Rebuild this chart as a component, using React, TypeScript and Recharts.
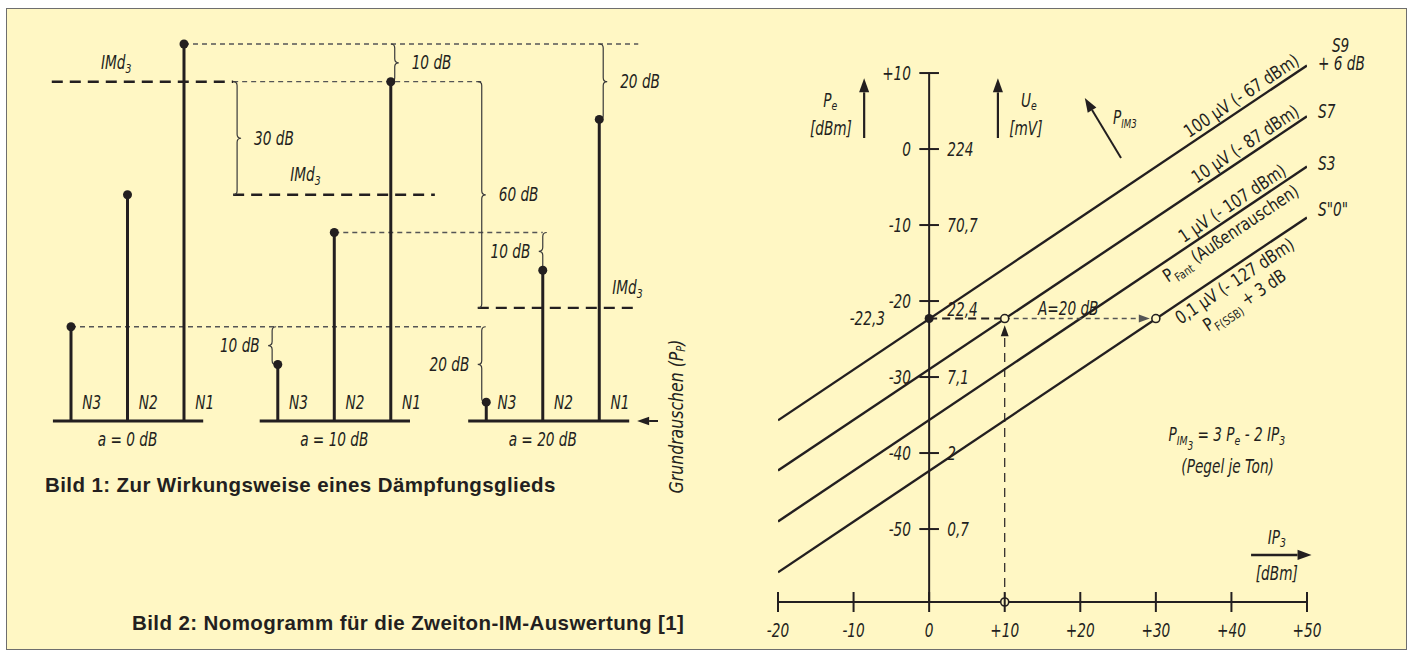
import React from 'react'
import {
  ScatterChart, Scatter,
  LineChart, Line,
  XAxis, YAxis,
  ReferenceLine, ReferenceDot,
} from 'recharts'

const W = 1412
const H = 656
const INK = '#231f20'
const GUIDE = '#555555'
const PAPER = '#fff7c4'
const NARROW = '"Liberation Sans Narrow", "DejaVu Sans Condensed", "Roboto Condensed", "Liberation Sans", sans-serif'

// ── Bild 1: three spectra (a = 0 / 10 / 20 dB) ────────────────────────────────
const ATTENUATION = [0, 10, 20]
const TONES = ['N3', 'N2', 'N1']
const GROUP_POS = [0, 3.66, 7.35]        // start of each spectrum, in tone spacings
const N1_DB = [100, 90, 80]
const N2_DB = [60, 50, 40]
const N3_DB = [25, 15, 5]
const IMD_DB = [90, 60, 30]
const IMD_FROM = [-0.34, 2.87, 7.2]
const IMD_TO = [2.87, 6.44, 10.04]
const BASE_FROM = [-0.32, -0.32, -0.32]
const BASE_TO = [2.34, 2.34, 2.53]
const GUIDE_DB = [100, 90, 50, 25]
const GUIDE_FROM = [2, 2.87, 4.66, 0]
const GUIDE_TO = [10.04, 7.27, 8.35, 7.27]
const BRACE_X = [5.73, 2.94, 9.42, 7.27, 8.35, 3.56, 7.27]
const BRACE_TOP = [100, 90, 100, 90, 50, 25, 25]
const BRACE_BOTTOM = [90, 60, 80, 30, 40, 15, 5]
const BRACE_SIDE = [1, 1, 1, 1, -1, -1, -1]
const BRACE_TEXT = ['10 dB', '30 dB', '20 dB', '60 dB', '10 dB', '10 dB', '20 dB']

// ── Bild 2: nomogram ──────────────────────────────────────────────────────────
const IP3_ENDS = [-20, 50]
const S9_PE = [-35.7, 11.0]
const S7_PE = [-42.3, 4.3]
const S3_PE = [-49.0, -2.3]
const S0_PE = [-55.7, -9.0]
const PE_TICKS = [10, 0, -10, -20, -30, -40, -50]
const UE_MV = ['', '224', '70,7', '22,4', '7,1', '2', '0,7']
const IP3_TICKS = [-20, -10, 0, 10, 20, 30, 40, 50]
const PE_READ = -22.3
const IP3_READ = 10
const IP3_SSB = 30

const LINE_ROWS = IP3_ENDS.map((ip3, i) => ({
  ip3, s9: S9_PE[i], s7: S7_PE[i], s3: S3_PE[i], s0: S0_PE[i],
}))

const signed = (v: number) => (v > 0 ? `+${v}` : String(v))

type TextOpts = {
  anchor?: 'start' | 'middle' | 'end'
  rotate?: number
  dy?: number
  italic?: boolean
  size?: number
  central?: boolean
  sx?: number
}

// text placed in data coordinates (squeezed a little, the print uses a condensed face)
function note(key: string, x: number, y: number, content: React.ReactNode, o: TextOpts = {}) {
  const { anchor = 'middle', rotate = 0, dy = 0, italic = true, size = 19, central = true, sx = 0.8 } = o
  return (
    <ReferenceDot
      key={key} x={x} y={y} r={0} ifOverflow="visible"
      shape={(p: any) => (
        <text
          x={p.cx} y={p.cy + dy}
          textAnchor={anchor}
          dominantBaseline={central ? 'central' : 'alphabetic'}
          transform={`translate(${p.cx} ${p.cy}) rotate(${rotate}) scale(${sx} 1) translate(${-p.cx} ${-p.cy})`}
          fontFamily={NARROW} fontSize={size}
          fontStyle={italic ? 'italic' : 'normal'}
          fill={INK}
        >
          {content}
        </text>
      )}
    />
  )
}

const arrowShape = (size: number, color: string, width: number, dash?: string) => (p: any) => {
  const { x1, y1, x2, y2 } = p
  const a = Math.atan2(y2 - y1, x2 - x1)
  const bx = x2 - Math.cos(a) * size
  const by = y2 - Math.sin(a) * size
  const w = size * 0.36
  const px = -Math.sin(a) * w
  const py = Math.cos(a) * w
  return (
    <g>
      <line x1={x1} y1={y1} x2={bx} y2={by} stroke={color} strokeWidth={width} strokeDasharray={dash} />
      <polygon points={`${x2},${y2} ${bx + px},${by + py} ${bx - px},${by - py}`} fill={color} />
    </g>
  )
}

const braceShape = (side: number) => (p: any) => {
  const x = p.x1
  const ya = Math.min(p.y1, p.y2)
  const yb = Math.max(p.y1, p.y2)
  const ym = (ya + yb) / 2
  const h = 4
  const d = `M${x - side * h},${ya} Q${x},${ya} ${x},${ya + h} L${x},${ym - h} Q${x},${ym} ${x + side * h},${ym} ` +
    `Q${x},${ym} ${x},${ym + h} L${x},${yb - h} Q${x},${yb} ${x - side * h},${yb}`
  return <path d={d} fill="none" stroke="#3a3a3a" strokeWidth={1.2} />
}

function seg(key: string, x1: number, y1: number, x2: number, y2: number, props: any) {
  return (
    <ReferenceLine
      key={key}
      segment={[{ x: x1, y: y1 }, { x: x2, y: y2 }]}
      ifOverflow="visible"
      {...props}
    />
  )
}

const sub3 = (base: string) => [
  <tspan key="a">{base}</tspan>,
  <tspan key="b" dy={6} fontSize={13}>3</tspan>,
]

function Bild1() {
  const levels = [N3_DB, N2_DB, N1_DB]
  const stems: { x: number; level: number; name: string; g: number }[] = []
  GROUP_POS.forEach((g0, g) =>
    TONES.forEach((name, t) => stems.push({ x: g0 + t, level: levels[t][g], name, g })),
  )

  return (
    <ScatterChart width={W} height={H} margin={{ top: 0, right: 0, bottom: 0, left: 0 }}>
      <XAxis type="number" dataKey="x" domain={[-1.2566, 23.735]} hide allowDataOverflow />
      <YAxis type="number" dataKey="level" domain={[-62.33, 111.67]} hide width={0} allowDataOverflow />

      {/* guide lines */}
      {GUIDE_DB.map((db, i) =>
        seg(`gd${i}`, GUIDE_FROM[i], db, GUIDE_TO[i], db,
          { stroke: GUIDE, strokeWidth: 1.3, strokeDasharray: '5 4' }))}

      {/* IMd3 levels */}
      {IMD_DB.map((db, i) =>
        seg(`imd${i}`, IMD_FROM[i], db, IMD_TO[i], db,
          { stroke: INK, strokeWidth: 2.4, strokeDasharray: '11 7' }))}

      {/* braces */}
      {BRACE_X.map((x, i) =>
        seg(`br${i}`, x, BRACE_TOP[i], x, BRACE_BOTTOM[i], { shape: braceShape(BRACE_SIDE[i]) }))}
      {BRACE_X.map((x, i) =>
        note(`brt${i}`, x + BRACE_SIDE[i] * (BRACE_SIDE[i] > 0 ? 0.3 : 0.22),
          (BRACE_TOP[i] + BRACE_BOTTOM[i]) / 2, BRACE_TEXT[i],
          { anchor: BRACE_SIDE[i] > 0 ? 'start' : 'end' }))}

      {/* baselines and stems */}
      {GROUP_POS.map((g0, g) =>
        seg(`base${g}`, g0 + BASE_FROM[g], 0, g0 + BASE_TO[g], 0, { stroke: INK, strokeWidth: 3 }))}
      {stems.map((s, i) => seg(`st${i}`, s.x, 0, s.x, s.level, { stroke: INK, strokeWidth: 3 }))}
      <Scatter
        data={stems}
        isAnimationActive={false}
        shape={(p: any) => <circle cx={p.cx} cy={p.cy} r={4.5} fill={INK} />}
      />

      {stems.map((s, i) => note(`nl${i}`, s.x + 0.2, 5, s.name, { anchor: 'start' }))}
      {GROUP_POS.map((g0, g) => note(`al${g}`, g0 + 1, -4.8, `a = ${ATTENUATION[g]} dB`))}

      {note('imdl0', 0.53, 95.2, sub3('IMd'), { anchor: 'start' })}
      {note('imdl1', 3.88, 65.3, sub3('IMd'), { anchor: 'start' })}
      {note('imdl2', 9.58, 35.5, sub3('IMd'), { anchor: 'start' })}

      {/* noise floor arrow + label */}
      {seg('nf', 10.39, 0, 10.02, 0, { shape: arrowShape(12, INK, 2) })}
      {note('nft', 10.71, 1.2,
        [<tspan key="a">Grundrauschen (P</tspan>, <tspan key="b" dy={5} fontSize={12}>P</tspan>, <tspan key="c" dy={-5}>)</tspan>],
        { rotate: -90, sx: 0.92 })}
    </ScatterChart>
  )
}

function IpTick(p: any) {
  const { x, y, payload } = p
  return (
    <g>
      <line x1={x} x2={x} y1={y - 10} y2={y + 10} stroke={INK} strokeWidth={2} />
      <text x={x} y={y + 28} textAnchor="middle" dominantBaseline="central"
        transform={`translate(${x} 0) scale(0.8 1) translate(${-x} 0)`}
        fontFamily={NARROW} fontSize={19} fontStyle="italic" fill={INK}>
        {signed(payload.value)}
      </text>
    </g>
  )
}

const ANGLE = -33.8
const along = { anchor: 'end' as const, rotate: ANGLE, italic: false, central: false, size: 18, sx: 0.9 }

function Bild2() {
  return (
    <LineChart width={W} height={H} data={LINE_ROWS} margin={{ top: 54.8, right: 105, bottom: 14, left: 778 }}>
      <XAxis
        type="number" dataKey="ip3" domain={[-20, 50]} ticks={IP3_TICKS} interval={0}
        height={40} tickSize={0} tickMargin={0} tickLine={false}
        axisLine={{ stroke: INK, strokeWidth: 2 }}
        tick={(p: any) => <IpTick {...p} />}
        allowDataOverflow
      />
      <YAxis type="number" domain={[-59.6, 12.4]} hide width={0} allowDataOverflow />

      {['s9', 's7', 's3', 's0'].map(k => (
        <Line key={k} dataKey={k} type="linear" stroke={INK} strokeWidth={2.4}
          dot={false} activeDot={false} isAnimationActive={false} />
      ))}

      {/* Pe / Ue scale */}
      {seg('pe', 0, 10, 0, -59.6, { stroke: INK, strokeWidth: 2 })}
      {PE_TICKS.map((v, i) => seg(`pt${i}`, -1.3, v, 1.3, v, { stroke: INK, strokeWidth: 2 }))}
      {PE_TICKS.map((v, i) => note(`ptl${i}`, -2.4, v, signed(v), { anchor: 'end' }))}
      {UE_MV.map((u, i) => (u ? note(`ue${i}`, 2.4, PE_TICKS[i] === -20 ? -21.1 : PE_TICKS[i], u, { anchor: 'start' }) : null))}

      {/* worked example */}
      {seg('rd1', 0, PE_READ, IP3_READ, PE_READ, { stroke: INK, strokeWidth: 2.2, strokeDasharray: '8 5' })}
      {seg('rd2', IP3_READ, PE_READ, IP3_SSB - 0.8, PE_READ, { shape: arrowShape(11, GUIDE, 1.6, '5 4') })}
      {seg('rd3', IP3_READ, -59.6, IP3_READ, PE_READ - 0.9, { shape: arrowShape(11, INK, 1.2, '9 6') })}
      <ReferenceDot x={0} y={PE_READ} r={4.5} fill={INK} stroke="none" ifOverflow="visible" />
      <ReferenceDot x={IP3_READ} y={PE_READ} r={4} fill={PAPER} stroke={INK} strokeWidth={1.6} ifOverflow="visible" />
      <ReferenceDot x={IP3_SSB} y={PE_READ} r={4} fill={PAPER} stroke={INK} strokeWidth={1.6} ifOverflow="visible" />
      <ReferenceDot x={IP3_READ} y={-59.6} r={4} fill={PAPER} stroke={INK} strokeWidth={1.6} ifOverflow="visible" />
      {note('v223', -5.84, PE_READ, '-22,3', { anchor: 'end' })}
      {note('a20', 18.4, -20.9, 'A=20 dB')}

      {/* axis captions */}
      {seg('pea', -8.6, 1.45, -8.6, 9.3, { shape: arrowShape(14, INK, 2.2) })}
      {note('pel', -13.1, 6.45, [<tspan key="a">P</tspan>, <tspan key="b" dy={6} fontSize={13}>e</tspan>])}
      {note('peu', -13.0, 2.76, '[dBm]')}
      {seg('uea', 9.1, 1.45, 9.1, 9.3, { shape: arrowShape(14, INK, 2.2) })}
      {note('uel', 13.2, 6.45, [<tspan key="a">U</tspan>, <tspan key="b" dy={6} fontSize={13}>e</tspan>])}
      {note('ueu', 12.8, 2.76, '[mV]')}
      {seg('ima', 25.39, -1.18, 20.6, 6.7, { shape: arrowShape(14, INK, 2) })}
      {note('iml', 24.33, 4.1, [<tspan key="a">P</tspan>, <tspan key="b" dy={6} fontSize={12}>IM3</tspan>], { anchor: 'start' })}
      {seg('ipa', 42.6, -53.4, 50.6, -53.4, { shape: arrowShape(14, INK, 2.5) })}
      {note('ipl', 46.0, -51.05, sub3('IP'))}
      {note('ipu', 46.0, -55.8, '[dBm]')}

      {/* S-meter labels */}
      {note('s9', 53.3, 13.7, 'S9', { anchor: 'start' })}
      {note('s9b', 51.46, 11.3, '+ 6 dB', { anchor: 'start' })}
      {note('s7', 51.46, 5.0, 'S7', { anchor: 'start' })}
      {note('s3', 51.46, -1.84, 'S3', { anchor: 'start' })}
      {note('s0', 51.46, -7.9, 'S"0"', { anchor: 'start' })}

      {/* labels along the lines */}
      {note('l9', 49.5, 10.7, '100 µV (- 67 dBm)', { ...along, dy: -5 })}
      {note('l7', 49.5, 4.0, '10 µV (- 87 dBm)', { ...along, dy: -5 })}
      {note('l3', 47.8, -3.8, '1 µV (- 107 dBm)', { ...along, dy: -5 })}
      {note('lf', 47.7, -3.87,
        [<tspan key="a">P</tspan>, <tspan key="b" dy={5} fontSize={12}>Fant</tspan>, <tspan key="c" dy={-5}> (Außenrauschen)</tspan>],
        { ...along, dy: 19 })}
      {note('l0', 47.1, -10.9, '0,1 µV (- 127 dBm)', { ...along, dy: 19 })}
      {note('lssb', 44.5, -12.7,
        [<tspan key="a">P</tspan>, <tspan key="b" dy={5} fontSize={12}>F(SSB)</tspan>, <tspan key="c" dy={-5}> + 3 dB</tspan>],
        { ...along, dy: 40 })}

      {/* formula */}
      {note('f1', 39.4, -37.6, [
        <tspan key="a">P</tspan>,
        <tspan key="b" dy={6} fontSize={13}>IM</tspan>,
        <tspan key="c" dy={5} fontSize={12}>3</tspan>,
        <tspan key="d" dy={-11}> = 3 P</tspan>,
        <tspan key="e" dy={6} fontSize={13}>e</tspan>,
        <tspan key="f" dy={-6}> - 2 IP</tspan>,
        <tspan key="g" dy={6} fontSize={13}>3</tspan>,
      ])}
      {note('f2', 39.5, -41.8, '(Pegel je Ton)')}
    </LineChart>
  )
}

const caption: React.CSSProperties = {
  position: 'absolute',
  fontFamily: '"Liberation Sans", Arial, sans-serif',
  fontWeight: 700,
  fontSize: 20.5,
  letterSpacing: 0.4,
  lineHeight: '22px',
  color: INK,
  whiteSpace: 'nowrap',
}

export default function App() {
  return (
    <div style={{ position: 'absolute', left: 0, top: 0, width: W, height: H, background: '#ffffff', overflow: 'hidden' }}>
      <div style={{
        position: 'absolute', left: 6, top: 8, width: 1401, height: 642,
        background: PAPER, border: '1.5px solid #6e6e6e', boxSizing: 'border-box',
      }} />
      <div style={{ position: 'absolute', left: 0, top: 0 }}><Bild1 /></div>
      <div style={{ position: 'absolute', left: 0, top: 0 }}><Bild2 /></div>
      <div style={{ ...caption, left: 45, top: 474 }}>Bild 1: Zur Wirkungsweise eines Dämpfungsglieds</div>
      <div style={{ ...caption, left: 132, top: 612 }}>Bild 2: Nomogramm für die Zweiton-IM-Auswertung [1]</div>
    </div>
  )
}
